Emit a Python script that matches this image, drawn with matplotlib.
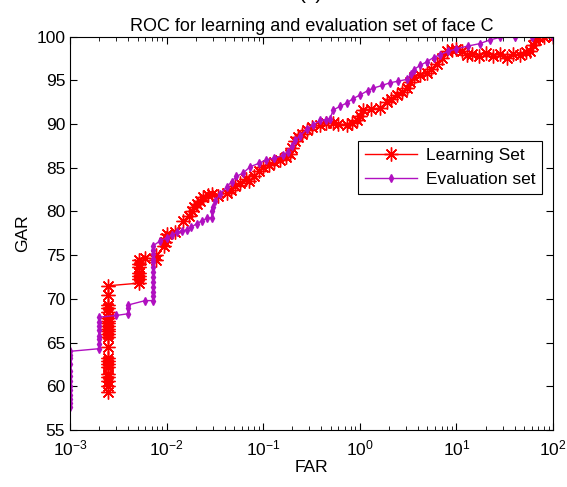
import matplotlib.pyplot as plt
import numpy as np

plt.rcParams['font.family'] = ['Liberation Sans', 'DejaVu Sans']

# learning set (red)
far_learn = [0.0025] * 23 + [0.0052] * 7 + [
    0.0060, 0.0078, 0.0078, 0.0095, 0.0097, 0.0099, 0.0100, 0.0122, 0.0149,
    0.0170, 0.0181, 0.0190, 0.0205, 0.022, 0.0239, 0.0265, 0.0292, 0.034,
    0.0418, 0.046, 0.0509, 0.058, 0.066, 0.072, 0.0794, 0.09, 0.1, 0.115,
    0.13, 0.149, 0.17, 0.189, 0.2, 0.212, 0.23, 0.25, 0.281, 0.32, 0.386,
    0.45, 0.527, 0.6, 0.73, 0.82, 0.93, 1.0, 1.09, 1.3, 1.61, 1.89, 2.1,
    2.41, 2.7, 3.07, 3.3, 3.6, 4.2, 4.9, 5.5, 6.27, 7.0, 7.9, 9.0, 10.0,
    11.5, 12.7, 14.5, 17.0, 20.0, 24.0, 28.0, 33.0, 38.0, 45.0, 52.0, 58.0,
    62.0, 66.0, 70.0, 80.0, 100.0]
gar_learn = [59.4, 60.0, 60.6, 61.1, 61.4, 62.2, 62.6, 62.9, 63.2, 64.5,
             65.6, 66.0, 66.3, 66.6, 66.9, 67.2, 67.5, 67.8, 68.5, 69.0,
             69.3, 70.4, 71.5,
             71.8, 72.3, 72.6, 73.0, 73.6, 74.0, 74.4] + [
    74.7, 74.5, 75.0, 76.0, 76.5, 77.0, 77.4, 77.7, 78.9,
    79.5, 80.1, 80.5, 80.8, 81.2, 81.6, 81.9, 82.0, 81.8,
    82.1, 82.5, 82.9, 83.3, 83.7, 83.5, 84.0, 84.6, 85.1, 85.3,
    85.6, 85.9, 86.2, 86.6, 87.2, 88.0, 88.5, 88.9, 89.3, 89.6, 89.9,
    90.1, 90.1, 90.0, 89.9, 90.1, 90.4, 90.9, 91.6, 91.7, 91.8, 92.5, 92.9,
    93.3, 93.6, 94.1, 94.8, 95.4, 95.6, 95.8, 96.3, 96.9, 97.6, 98.4, 98.5, 98.6,
    98.3, 97.9, 98.0, 97.8, 98.1, 97.8, 98.0, 97.6, 98.0, 97.9, 98.2, 98.4,
    99.0, 99.6, 100.0, 100.0, 100.0]

# evaluation set (purple)
far_eval = [0.001] * 13 + [0.002] * 8 + [0.003] + [0.004] * 3 + [0.006] + [0.0073] * 13 + [
    0.0085, 0.0100, 0.0113, 0.0127, 0.0145, 0.0161, 0.018, 0.0205, 0.023,
    0.0259, 0.0294, 0.0296, 0.030, 0.032, 0.0357, 0.0418, 0.047, 0.0528,
    0.062, 0.073, 0.09, 0.108, 0.13, 0.16, 0.18, 0.2, 0.212, 0.24, 0.281,
    0.33, 0.386, 0.45, 0.49, 0.53, 0.62, 0.73, 0.85, 1.0, 1.2, 1.37, 1.7,
    2.03, 2.5, 3.07, 3.4, 3.6, 4.2, 4.9, 5.8, 6.7, 8.2, 10.0, 13.0, 17.6,
    22.0, 28.0, 40.0, 60.0, 100.0]
gar_eval = [57.6, 58.1, 58.6, 59.0, 59.6, 60.0, 60.6, 61.2, 61.8, 62.5, 63.2, 63.6, 64.0,
            64.3, 64.8, 65.4, 65.8, 66.4, 66.9, 67.4, 67.9,
            68.1,
            68.3, 68.9, 69.3,
            69.8,
            69.8, 70.3, 70.8, 71.3, 71.9, 72.5, 73.1, 73.6, 74.2, 74.6, 75.1, 75.6, 76.1] + [
    76.6, 77.0, 77.3, 77.6, 77.8, 77.9, 78.2, 78.6, 78.9,
    79.2, 79.3, 80.0, 80.5, 81.2, 82.0, 82.8, 83.4, 84.0,
    84.4, 85.1, 85.5, 85.9, 86.1, 86.4, 86.8, 87.5, 88.2, 88.6, 89.4,
    89.9, 90.4, 90.5, 90.6, 91.6, 92.0, 92.4, 92.9, 93.3, 93.8, 94.1, 94.4,
    94.7, 94.9, 95.1, 95.7, 96.2, 96.7, 97.1, 97.6, 97.9, 98.3, 98.6, 98.9, 99.2,
    99.6, 99.9, 100.0, 100.0, 100.0]

fs = 12.5
fig = plt.figure(figsize=(5.67, 4.87), dpi=100)
ax = fig.add_axes([0.1235, 0.117, 0.852, 0.808])

# matlab style asterisk marker
ax.semilogx(far_learn, gar_learn, '-', marker=(8, 2, 0), color='#ff0000', lw=1,
            ms=10, mew=1.0, label='Learning Set')
ax.semilogx(far_eval, gar_eval, '-d', color='#b010c0', lw=1, ms=4,
            label='Evaluation set')

ax.set_xlim(1e-3, 1e2)
ax.set_ylim(55, 100)
ax.set_yticks(np.arange(55, 101, 5))
ax.tick_params(which='both', direction='in', top=True, right=True, labelsize=fs)
ax.tick_params(which='major', length=5)
ax.tick_params(which='minor', length=3)
ax.tick_params(axis='x', which='major', pad=6)
for s in ax.spines.values():
    s.set_linewidth(0.8)

ax.set_title('ROC for learning and evaluation set of face C', fontsize=fs + 0.5, pad=4)
ax.set_xlabel('FAR', fontsize=fs, labelpad=1)
ax.set_ylabel('GAR', fontsize=fs, labelpad=4)
fig.text(0.548, 1.014, '(c)', ha='center', va='center', fontsize=15)

leg = ax.legend(loc='upper right', bbox_to_anchor=(0.977, 0.735), fontsize=fs,
                fancybox=False, edgecolor='black', framealpha=1,
                borderaxespad=0, handlelength=3, borderpad=0.4,
                labelspacing=0.5, handletextpad=0.5)
leg.get_frame().set_linewidth(0.8)

fig.savefig('out.png', dpi=100)
